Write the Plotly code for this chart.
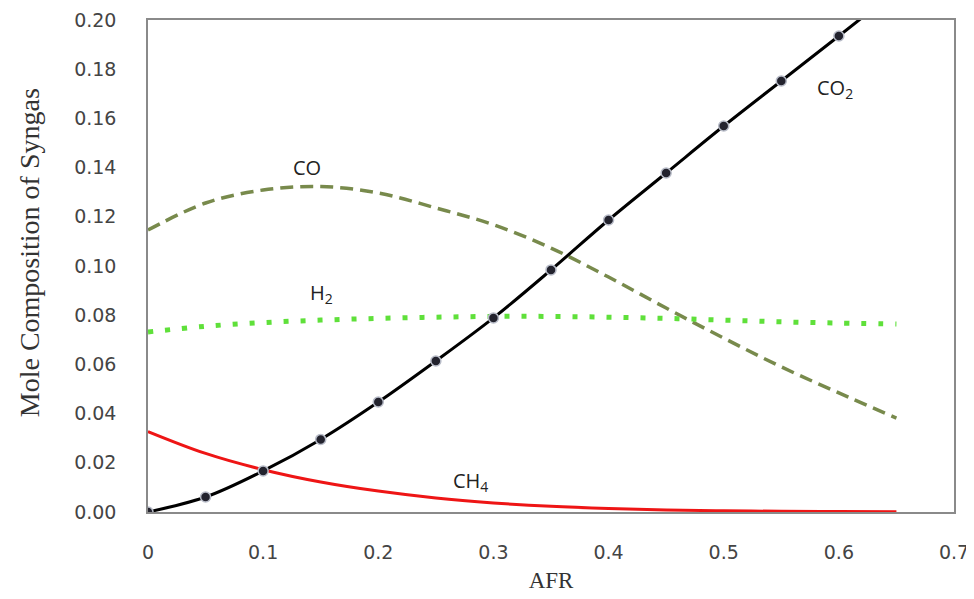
import plotly.graph_objects as go

afr = [0, 0.05, 0.1, 0.15, 0.2, 0.25, 0.3, 0.35, 0.4, 0.45, 0.5, 0.55, 0.6, 0.65]
co2 = [0.0, 0.0061, 0.0167, 0.0295, 0.0447, 0.0614, 0.0789, 0.0984, 0.1187, 0.1378, 0.1569, 0.1752, 0.1935, 0.2120]
co = [0.1146, 0.1256, 0.1309, 0.1323, 0.1297, 0.1236, 0.1168, 0.1073, 0.0955, 0.0829, 0.0707, 0.0590, 0.0484, 0.0382]
h2 = [0.0732, 0.0755, 0.0770, 0.0780, 0.0787, 0.0792, 0.0795, 0.0795, 0.0792, 0.0787, 0.0780, 0.0773, 0.0768, 0.0764]
ch4 = [0.0327, 0.0238, 0.0172, 0.0122, 0.0085, 0.0057, 0.0037, 0.0023, 0.0014, 0.0008, 0.0005, 0.0003, 0.0002, 0.0001]
co2_marker_x = afr[:13]
co2_marker_y = co2[:13]

x_ticks = [0, 0.1, 0.2, 0.3, 0.4, 0.5, 0.6, 0.7]
x_tick_labels = ["0", "0.1", "0.2", "0.3", "0.4", "0.5", "0.6", "0.7"]
y_ticks = [0, 0.02, 0.04, 0.06, 0.08, 0.10, 0.12, 0.14, 0.16, 0.18, 0.20]
y_tick_labels = ["0.00", "0.02", "0.04", "0.06", "0.08", "0.10", "0.12", "0.14", "0.16", "0.18", "0.20"]

fig = go.Figure()
fig.add_trace(go.Scatter(x=afr, y=co, mode="lines",
                         line=dict(color="#788a4c", width=3.5, dash="13px,7px", shape="spline")))
fig.add_trace(go.Scatter(x=afr, y=h2, mode="lines",
                         line=dict(color="#5fe03a", width=5, dash="5px,12px", shape="spline")))
fig.add_trace(go.Scatter(x=afr, y=ch4, mode="lines",
                         line=dict(color="#ee1515", width=3, shape="spline")))
fig.add_trace(go.Scatter(x=afr, y=co2, mode="lines",
                         line=dict(color="#000000", width=3, shape="spline")))
fig.add_trace(go.Scatter(x=co2_marker_x, y=co2_marker_y, mode="markers",
                         marker=dict(color="#23232e", size=10, line=dict(color="#b8bcc8", width=1.5))))

lab_font = dict(family="Open Sans, Noto Sans", size=20, color="#222222")
fig.add_annotation(x=0.597, y=0.172, xref="x", yref="y", text="CO<sub>2</sub>",
                   showarrow=False, font=lab_font, xanchor="center", yanchor="middle")
fig.add_annotation(x=0.138, y=0.140, xref="x", yref="y", text="CO",
                   showarrow=False, font=lab_font, xanchor="center", yanchor="middle")
fig.add_annotation(x=0.151, y=0.0890, xref="x", yref="y", text="H<sub>2</sub>",
                   showarrow=False, font=lab_font, xanchor="center", yanchor="middle")
fig.add_annotation(x=0.280, y=0.0122, xref="x", yref="y", text="CH<sub>4</sub>",
                   showarrow=False, font=lab_font, xanchor="center", yanchor="middle")
fig.add_annotation(x=0, y=0.526, xref="paper", yref="paper", text="Mole Composition of Syngas",
                   textangle=-90, showarrow=False, xanchor="center", yanchor="middle", xshift=-119,
                   font=dict(family="Liberation Serif", size=28, color="#333333"))

fig.update_layout(
    width=966, height=591,
    margin=dict(l=140, r=20, t=12, b=87),
    paper_bgcolor="white", plot_bgcolor="white",
    showlegend=False,
    xaxis=dict(range=[0, 0.7], tickvals=x_ticks, ticktext=x_tick_labels, automargin=False,
               showgrid=False, zeroline=False, showline=True, linecolor="#8a8a8a", linewidth=1.5,
               mirror=True, ticks="", ticklabelstandoff=22,
               tickfont=dict(family="DejaVu Sans", size=19, color="#444444"),
               title=dict(text="AFR", font=dict(family="Liberation Serif", size=23, color="#333333"), standoff=10)),
    yaxis=dict(range=[0, 0.2], tickvals=y_ticks, ticktext=y_tick_labels, automargin=False,
               showgrid=False, zeroline=False, showline=True, linecolor="#8a8a8a", linewidth=1.5,
               mirror=True, ticks="", ticklabelstandoff=26,
               tickfont=dict(family="DejaVu Sans", size=19, color="#444444")),
)

fig.write_html("out.html")
